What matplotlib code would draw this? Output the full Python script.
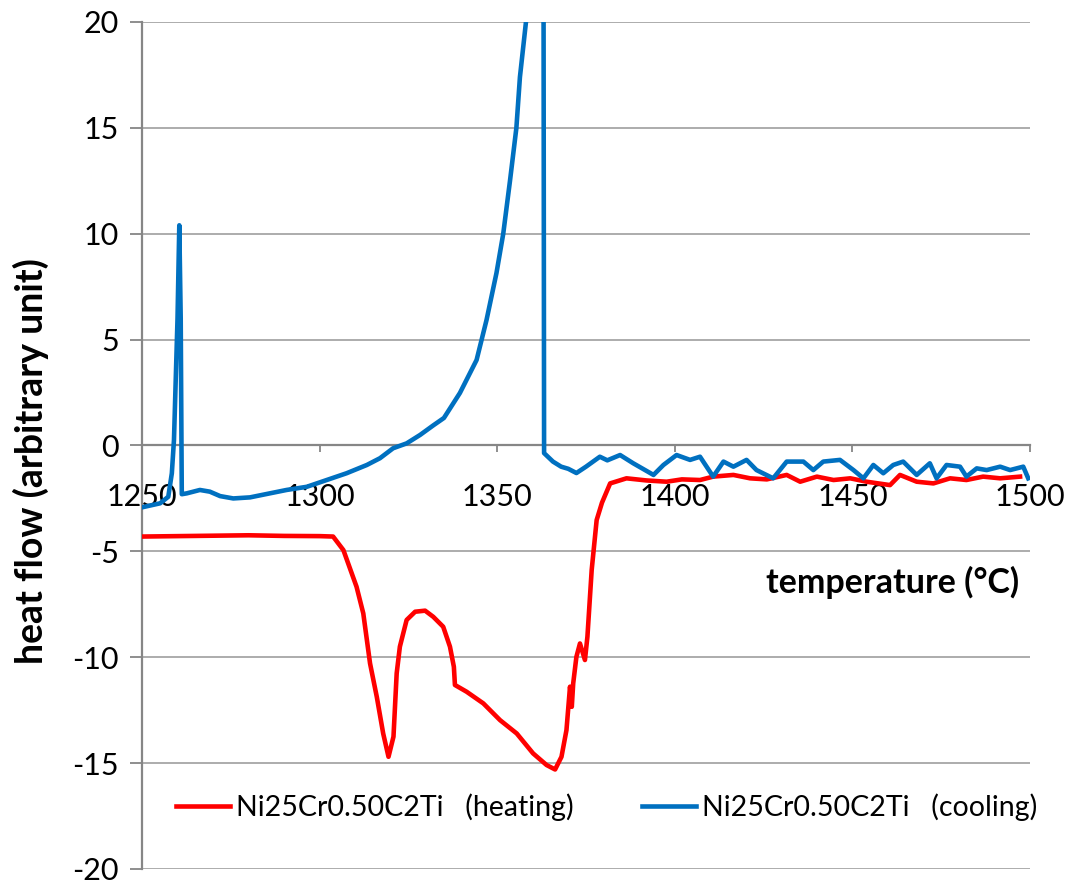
import matplotlib
matplotlib.use("Agg")
import matplotlib.pyplot as plt

# ── data ──
heat_T = [1250, 1260, 1270, 1280, 1290, 1300, 1303.8, 1306.7, 1310.4, 1312.3,
          1314.2, 1316.1, 1317.9, 1319.4, 1320.8, 1321.7, 1322.6, 1324.5, 1326.9, 1329.7,
          1332.0, 1334.8, 1336.7, 1337.8, 1338.1, 1341.4, 1346.1, 1350.8, 1355.5, 1360.1,
          1363.9, 1366.3, 1368.1, 1369.5, 1370.5, 1371.0, 1371.4, 1372.3, 1373.3, 1374.7,
          1375.4, 1376.6, 1378.0, 1379.5, 1381.8, 1386.4, 1392, 1397.7, 1402, 1407.1,
          1410.8, 1416.5, 1421.2, 1425.9, 1431.5, 1435.3, 1440.0, 1444.7, 1449.4, 1454.0,
          1460.6, 1463.4, 1468.1, 1472.8, 1477.5, 1482.1, 1486.8, 1491.6, 1497.2]
heat_Q = [-4.30, -4.28, -4.26, -4.24, -4.27, -4.28, -4.30, -4.94, -6.67, -7.93,
          -10.29, -11.87, -13.60, -14.70, -13.75, -10.76, -9.50, -8.24, -7.85, -7.80,
          -8.09, -8.56, -9.50, -10.45, -11.31, -11.63, -12.18, -12.97, -13.60, -14.54,
          -15.09, -15.30, -14.70, -13.44, -11.39, -12.34, -11.23, -9.98, -9.35, -10.13,
          -9.03, -5.88, -3.52, -2.70, -1.79, -1.55, -1.65, -1.71, -1.60, -1.63,
          -1.47, -1.39, -1.55, -1.60, -1.39, -1.71, -1.47, -1.63, -1.55, -1.71,
          -1.87, -1.39, -1.71, -1.79, -1.55, -1.63, -1.47, -1.55, -1.47]

cool_T = [1250.0, 1255.1, 1257.4, 1258.4, 1259.0, 1260.0, 1260.5, 1260.9, 1261.2, 1262.6,
          1266.3, 1269.1, 1272.0, 1275.7, 1280.4, 1285.1, 1290.7, 1296.4, 1302.0, 1307.6,
          1313.3, 1317.0, 1320.7, 1324.5, 1328.3, 1332.0, 1335.0, 1339.5, 1344.2, 1347.0,
          1349.8, 1351.7, 1353.6, 1355.4, 1356.4, 1358.1, 1359.5, 1361.5, 1363.0, 1363.2,
          1365.7, 1368, 1370, 1372.3, 1375, 1378.9, 1381, 1384.6, 1388.3, 1391,
          1394.0, 1396.8, 1400.5, 1404.3, 1407.1, 1410.8, 1413.7, 1416.5, 1420.2, 1423.0,
          1427.7, 1431.5, 1436.2, 1439.0, 1441.8, 1446.5, 1450.3, 1453.1, 1455.9, 1458.7,
          1461.5, 1464.3, 1468.1, 1471.8, 1473.7, 1476.5, 1480.3, 1482.1, 1485.0, 1487.8,
          1491.6, 1494.4, 1498.1, 1499.5]
cool_Q = [-2.92, -2.73, -2.42, -1.31, 0.26, 6.0, 10.4, 6.0, -2.30, -2.26,
          -2.10, -2.18, -2.39, -2.50, -2.45, -2.29, -2.10, -1.95, -1.63, -1.31,
          -0.92, -0.60, -0.13, 0.10, 0.50, 0.95, 1.30, 2.48, 4.04, 5.93,
          8.15, 10.0, 12.5, 15.0, 17.4, 20.0, 24.0, 28.0, 28.0, -0.36,
          -0.76, -1.0, -1.1, -1.3, -1.0, -0.53, -0.7, -0.45, -0.84, -1.1,
          -1.39, -0.92, -0.45, -0.68, -0.53, -1.47, -0.76, -1.0, -0.68, -1.16,
          -1.55, -0.76, -0.76, -1.16, -0.76, -0.68, -1.16, -1.55, -0.92, -1.31,
          -0.92, -0.76, -1.39, -0.84, -1.55, -0.92, -1.0, -1.47, -1.08, -1.16,
          -1.0, -1.16, -1.0, -1.55]

x_ticks = [1250, 1300, 1350, 1400, 1450, 1500]
y_ticks = [-20, -15, -10, -5, 0, 5, 10, 15, 20]
labels = ["Ni25Cr0.50C2Ti   (heating)", "Ni25Cr0.50C2Ti   (cooling)"]

plt.rcParams['font.family'] = ['Lato', 'DejaVu Sans']
plt.rcParams['axes.unicode_minus'] = False

fig = plt.figure(figsize=(10.74, 8.84), dpi=100)
ax = fig.add_axes([142 / 1074, 15 / 884, 888 / 1074, 847 / 884])

ax.plot(heat_T, heat_Q, color='#FF0000', lw=3.3, label=labels[0], zorder=3)
ax.plot(cool_T, cool_Q, color='#0070C0', lw=3.3, label=labels[1], zorder=4)

ax.set_xlim(1250, 1500)
ax.set_ylim(-20, 20)
ax.set_xticks(x_ticks)
ax.set_yticks(y_ticks)

axis_gray = '#868686'
ax.yaxis.grid(True, color='#A6A6A6', lw=1.3)
ax.set_axisbelow(True)
ax.spines['top'].set_visible(False)
ax.spines['right'].set_visible(False)
ax.spines['bottom'].set_position(('data', 0))
for s in ('left', 'bottom'):
    ax.spines[s].set_color(axis_gray)
    ax.spines[s].set_linewidth(1.6)

ax.tick_params(axis='x', direction='out', length=5, width=1.3, color=axis_gray,
               labelsize=22, pad=22)
ax.tick_params(axis='y', direction='out', length=8.5, width=1.3, color=axis_gray,
               labelsize=22, pad=8)

fig.text(31 / 1074, 1 - 461 / 884, 'heat flow (arbitrary unit)', rotation=90,
         ha='center', va='center', fontsize=27, fontweight='bold')
fig.text(1019 / 1074, 1 - 582 / 884, 'temperature (°C)',
         ha='right', va='center', fontsize=24.5, fontweight='bold')

ax.legend(loc='center left', bbox_to_anchor=(176 / 1074, 1 - 807 / 884),
          bbox_transform=fig.transFigure, ncol=2, frameon=False, fontsize=20.5,
          handlelength=1.9, handletextpad=0.2, columnspacing=2.4,
          borderpad=0, borderaxespad=0)

fig.savefig('out.png', dpi=100)
